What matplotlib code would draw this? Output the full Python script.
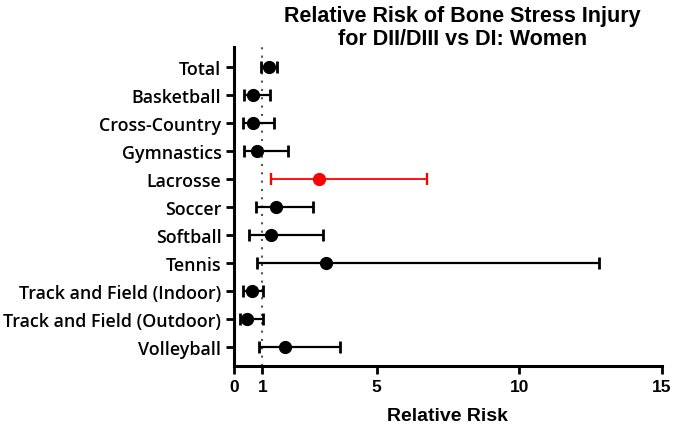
import numpy as np
import matplotlib.pyplot as plt

sports = ['Total', 'Basketball', 'Cross-Country', 'Gymnastics', 'Lacrosse',
          'Soccer', 'Softball', 'Tennis', 'Track and Field (Indoor)',
          'Track and Field (Outdoor)', 'Volleyball']
rr = [1.22, 0.68, 0.66, 0.82, 2.97, 1.48, 1.29, 3.23, 0.62, 0.45, 1.80]
ci_low = [0.96, 0.36, 0.33, 0.35, 1.30, 0.77, 0.54, 0.80, 0.33, 0.21, 0.88]
ci_high = [1.51, 1.27, 1.42, 1.91, 6.78, 2.77, 3.12, 12.8, 1.03, 1.01, 3.73]
highlight = ['Lacrosse']

fig = plt.figure(figsize=(6.74, 4.27), dpi=100)
ax = fig.add_axes([0.347, 0.1405, 0.635, 0.747])

y = np.arange(len(sports))
ax.axvline(1, color='#555555', ls=(0, (1, 3)), lw=1.5, zorder=1)

for i, s in enumerate(sports):
    col = 'red' if s in highlight else 'black'
    lw = 1.3 if s in highlight else 1.6
    ax.errorbar(rr[i], y[i], xerr=[[rr[i] - ci_low[i]], [ci_high[i] - rr[i]]],
                fmt='o', color=col, ms=8.5, elinewidth=lw, capsize=4.5,
                capthick=lw + 0.4, zorder=3)

ax.set_xlim(0, 15)
ax.set_ylim(len(sports) - 1 + 0.68, -0.72)
ax.set_xticks([0, 1, 5, 10, 15])
ax.set_yticks(y)
ax.set_yticklabels(sports, fontfamily='Open Sans', fontweight='semibold', fontsize=12.9)
for lab in ax.get_xticklabels():
    lab.set_fontfamily('Liberation Sans')
    lab.set_fontweight('bold')
    lab.set_fontsize(12.5)

for sp in ['top', 'right']:
    ax.spines[sp].set_visible(False)
for sp in ['left', 'bottom']:
    ax.spines[sp].set_linewidth(2.2)
ax.tick_params(axis='both', width=2, length=6, pad=3)

ax.set_xlabel('Relative Risk', fontfamily='Liberation Sans', fontweight='bold',
              fontsize=14, labelpad=10)
fig.text(0.686, 0.985, 'Relative Risk of Bone Stress Injury\nfor DII/DIII vs DI: Women',
         ha='center', va='top', fontfamily='Liberation Sans', fontweight='bold',
         fontsize=15.5, linespacing=1.1)

fig.savefig('out.png', dpi=100)
